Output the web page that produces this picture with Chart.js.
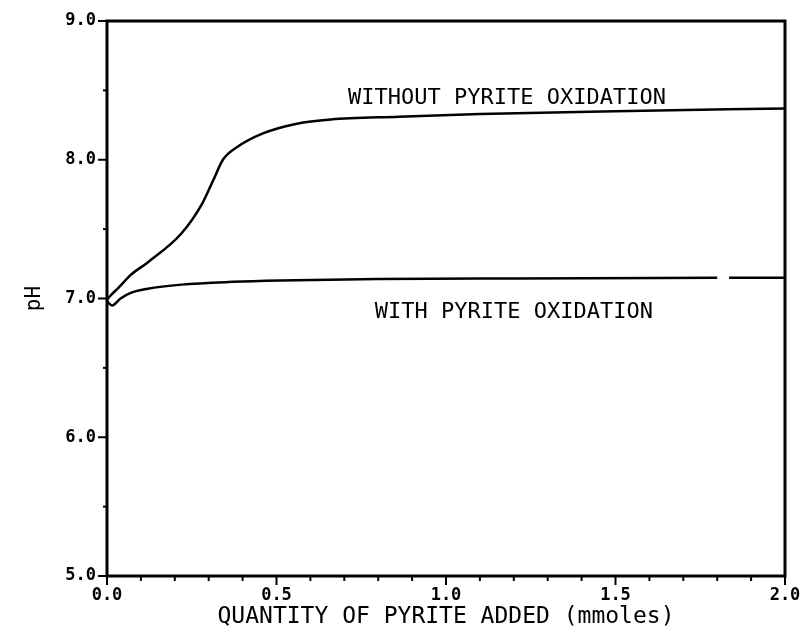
<!DOCTYPE html>
<html>
<head>
<meta charset="utf-8">
<script src="https://cdn.jsdelivr.net/npm/chart.js@4"></script>
<style>
  html, body { margin: 0; padding: 0; background: #fff; }
  #wrap { width: 807px; height: 635px; }
</style>
</head>
<body>
<div id="wrap"><canvas id="chart"></canvas></div>
<script>
// pH vs. quantity of pyrite added
const xWithout = [0, 0.01, 0.035, 0.07, 0.12, 0.22, 0.28, 0.313, 0.342, 0.383, 0.46, 0.56, 0.66, 0.86, 1.1, 1.5, 2.0];
const phWithout = [6.99, 7.02, 7.08, 7.17, 7.26, 7.47, 7.68, 7.85, 8.0, 8.09, 8.19, 8.26, 8.29, 8.31, 8.33, 8.35, 8.37];

const xWith = [0, 0.015, 0.04, 0.07, 0.12, 0.22, 0.37, 0.51, 0.8, 1.2, 1.8, 1.82, 1.835, 2.0];
const phWith = [6.98, 6.95, 7.0, 7.04, 7.07, 7.1, 7.12, 7.13, 7.14, 7.145, 7.15, null, 7.15, 7.15];

const seriesLabels = ['WITHOUT PYRITE OXIDATION', 'WITH PYRITE OXIDATION'];
const labelAnchors = [[1.18, 8.44], [1.2, 6.9]];

const xMajor = [0, 0.5, 1.0, 1.5, 2.0];
const yMajor = [5, 6, 7, 8, 9];

const toPoints = (xs, ys) => xs.map((x, i) => ({ x, y: ys[i] }));

const frameAndTicks = {
  id: 'frameAndTicks',
  afterDraw(chart) {
    const { ctx, chartArea: a, scales: { x, y } } = chart;
    ctx.save();
    ctx.strokeStyle = '#000';
    ctx.lineWidth = 3;
    ctx.strokeRect(a.left, a.top, a.right - a.left, a.bottom - a.top);

    // x ticks: major every 0.5, minor every 0.1
    ctx.lineWidth = 2;
    for (let i = 0; i <= 20; i++) {
      const px = x.getPixelForValue(i / 10);
      const len = i % 5 === 0 ? 9 : 5;
      ctx.beginPath();
      ctx.moveTo(px, a.bottom);
      ctx.lineTo(px, a.bottom + len);
      ctx.stroke();
    }
    // y ticks: major every 1.0, minor every 0.5
    for (let i = 0; i <= 8; i++) {
      const py = y.getPixelForValue(5 + i / 2);
      const len = i % 2 === 0 ? 9 : 4;
      ctx.beginPath();
      ctx.moveTo(a.left, py);
      ctx.lineTo(a.left - len, py);
      ctx.stroke();
    }

    // curve labels
    ctx.fillStyle = '#000';
    ctx.font = '22px "DejaVu Sans Mono"';
    ctx.textAlign = 'center';
    ctx.textBaseline = 'middle';
    seriesLabels.forEach((t, i) => {
      ctx.fillText(t, x.getPixelForValue(labelAnchors[i][0]), y.getPixelForValue(labelAnchors[i][1]));
    });
    ctx.restore();
  }
};

new Chart(document.getElementById('chart'), {
  type: 'line',
  data: {
    datasets: [
      { label: seriesLabels[0], data: toPoints(xWithout, phWithout) },
      { label: seriesLabels[1], data: toPoints(xWith, phWith) }
    ]
  },
  options: {
    responsive: true,
    maintainAspectRatio: false,
    animation: false,
    spanGaps: false,
    layout: { padding: { top: 21, right: 22, left: 22, bottom: 4 } },
    elements: {
      line: { borderColor: '#000', borderWidth: 2.5, tension: 0.4, cubicInterpolationMode: 'monotone', fill: false },
      point: { radius: 0 }
    },
    plugins: { legend: { display: false }, tooltip: { enabled: false } },
    scales: {
      x: {
        type: 'linear', min: 0, max: 2,
        afterBuildTicks: s => { s.ticks = xMajor.map(v => ({ value: v })); },
        afterFit: s => { s.height = 55; },
        border: { display: false },
        grid: { drawOnChartArea: false, tickLength: 8, tickColor: 'rgba(0,0,0,0)' },
        ticks: {
          color: '#000', padding: 1, maxRotation: 0,
          font: { family: 'DejaVu Sans Mono', size: 17, weight: 'bold' },
          callback: v => v.toFixed(1)
        },
        title: {
          display: true, text: 'QUANTITY OF PYRITE ADDED (mmoles)', color: '#000',
          font: { family: 'DejaVu Sans Mono', size: 23 }, padding: { top: 1, bottom: 0 }
        }
      },
      y: {
        type: 'linear', min: 5, max: 9,
        afterBuildTicks: s => { s.ticks = yMajor.map(v => ({ value: v })); },
        afterFit: s => { s.width = 85; },
        border: { display: false },
        grid: { drawOnChartArea: false, tickLength: 8, tickColor: 'rgba(0,0,0,0)' },
        ticks: {
          color: '#000', padding: 3,
          font: { family: 'DejaVu Sans Mono', size: 17, weight: 'bold' },
          callback: v => v.toFixed(1)
        },
        title: {
          display: true, text: 'pH', color: '#000',
          font: { family: 'DejaVu Sans Mono', size: 21 }, padding: 0
        }
      }
    }
  },
  plugins: [frameAndTicks]
});
</script>
</body>
</html>
